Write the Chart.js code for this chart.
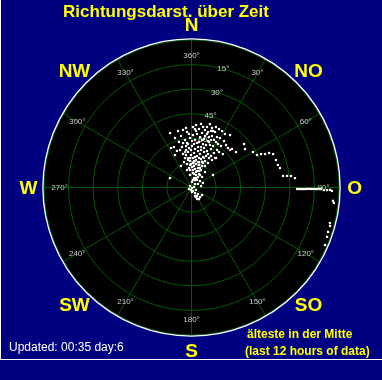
<!DOCTYPE html>
<html lang="de">
<head>
    <meta charset="UTF-8">
    <title>Richtungsdarst. über Zeit</title>
    <script src="https://cdn.jsdelivr.net/npm/chart.js"></script>
    <style>
        body { margin: 0; background: #000080; }
        #wrap { width: 382px; height: 380px; }
    </style>
</head>
<body>
    <div id="wrap"><canvas id="dirChart" width="382" height="380"></canvas></div>

    <script>
        // Richtung in Grad (0 = N, im Uhrzeigersinn) und Position im Ring (0 = Mitte/älteste, 90 = Rand/neueste)
        const dirWhite = [
            1.4, 3.4, 8.5, 10.8, 16.2, 19.0, 19.0, 25.2, 28.4, 32.0,
            36.3, 338.5, 346.6, 351.6, 355.4, 348.5, 1.6, 5.9, 9.6, 14.5,
            16.2, 19.1, 21.7, 25.3, 28.3, 19.5, 4.2, 358.3, 352.2, 344.6,
            349.2, 9.4, 31.4, 35.4, 42.7, 46.4, 51.4, 332.6, 336.6, 352.5,
            356.4, 0.7, 5.2, 9.1, 14.2, 17.6, 23.0, 26.9, 33.1, 354.4,
            359.1, 4.1, 9.9, 14.2, 20.7, 24.7, 30.7, 36.7, 39.7, 333.1,
            345.8, 347.6, 37.8, 43.2, 343.6, 349.2, 356.8, 3.5, 9.3, 18.4,
            22.4, 32.1, 352.7, 1.4, 10.7, 18.4, 28.5, 345.6, 41.1, 34.0,
            334.0, 5.9, 19.8, 29.1, 45.0, 14.7, 36.3, 52.6, 5.2, 59.8,
            293.8, 68.6, 45.0, 315.0, 135.0, 78.7, 191.3, 156.8, 119.1, 147.5,
            135.0, 147.1, 138.2, 239.0, 125.5, 4.6, 13.2, 22.9, 357.3, 10.9,
            22.3, 12.5, 354.2, 3.3, 18.8, 27.4, 343.0, 351.7, 26.2, 34.2,
            2.9, 14.3, 352.7, 27.0, 356.2, 10.8, 26.0, 4.9, 24.4, 16.2,
            353.2, 31.8, 25.0, 81.0, 154.7, 146.9, 21.0, 29.9, 341.6, 14.4,
            354.7, 7.3, 22.0, 14.7, 355.4, 7.0, 23.5, 14.8, 359.2, 10.1,
            19.4, 31.8, 6.5, 18.4, 357.1, 350.4, 5.4, 16.4, 358.8, 25.1,
            6.6, 23.6, 355.1, 18.4, 10.5, 34.2, 25.3, 11.3, 61.7, 173.7,
            157.6, 154.4, 20.8, 26.8, 35.0, 346.8, 338.3, 16.6, 4.1, 39.1,
            50.4, 54.3, 60.0, 63.6, 64.3, 65.5, 66.0, 67.7, 72.0, 75.4,
            77.6, 82.8, 83.1, 83.4, 84.8, 90.8, 90.8, 90.8, 90.8, 90.8,
            90.7, 90.7, 90.7, 90.7, 90.7, 90.7, 90.7, 90.7, 91.1, 91.1,
            91.0, 91.4, 95.4, 96.2, 104.4, 105.5, 108.0, 110.0, 113.3
        ];
        const ageWhite = [
            36.9, 35.7, 39.2, 37.6, 40.3, 38.4, 36.5, 39.4, 39.2, 38.5,
            39.7, 35.7, 35.4, 35.5, 34.0, 32.1, 32.0, 32.8, 31.2, 30.6,
            34.0, 32.6, 33.8, 32.1, 31.5, 30.1, 29.1, 30.2, 29.2, 28.8,
            27.6, 28.1, 31.1, 31.1, 32.8, 34.1, 34.7, 27.1, 26.9, 25.5,
            24.1, 25.3, 23.6, 25.0, 23.6, 25.3, 24.2, 26.3, 25.1, 21.8,
            19.8, 21.1, 19.5, 21.1, 19.9, 21.2, 20.9, 20.9, 23.4, 22.2,
            21.1, 18.4, 27.4, 28.0, 16.2, 14.6, 16.2, 15.0, 17.0, 14.5,
            16.8, 15.5, 12.0, 12.5, 11.5, 12.5, 12.1, 11.0, 12.5, 18.0,
            14.6, 8.9, 8.1, 9.4, 9.1, 6.0, 5.7, 6.5, 3.4, 15.2,
            14.3, 7.5, 3.0, 1.3, 0.4, 1.6, 1.6, 2.3, 3.1, 4.0,
            5.6, 6.2, 7.8, 1.8, 7.9, 34.6, 36.0, 36.8, 32.7, 33.9,
            31.3, 29.7, 27.3, 26.6, 27.4, 28.5, 23.9, 23.1, 22.8, 27.7,
            18.0, 18.6, 16.9, 18.1, 13.7, 14.6, 14.6, 10.7, 11.1, 9.9,
            7.7, 7.5, 5.0, 5.9, 6.4, 8.4, 29.7, 34.8, 31.8, 38.1,
            36.5, 36.0, 39.8, 32.5, 26.6, 27.4, 28.3, 27.4, 22.9, 22.6,
            23.0, 22.6, 18.7, 18.3, 18.0, 20.1, 16.2, 16.2, 14.3, 16.5,
            13.2, 13.0, 10.7, 10.6, 8.4, 9.2, 6.4, 4.7, 4.5, 2.8,
            5.6, 7.8, 36.9, 34.5, 34.6, 25.4, 24.0, 35.3, 38.2, 33.4,
            41.6, 40.2, 43.3, 44.6, 47.1, 49.3, 51.8, 53.8, 54.2, 54.5,
            55.3, 56.3, 58.7, 61.1, 63.4, 64.4, 65.6, 66.8, 68.0, 69.2,
            70.5, 71.7, 72.9, 74.1, 75.3, 76.6, 77.8, 79.0, 80.8, 82.7,
            84.5, 85.7, 86.7, 87.4, 87.2, 87.7, 87.6, 88.0, 88.7
        ];
        const dirPink = [0.6, 13.2, 349.6, 38.5, 45.8, 23.0, 14.3, 353.2];
        const agePink = [28.4, 25.4, 22.0, 23.0, 32.8, 19.6, 16.0, 18.1];

        const compassNames = ['N', 'NO', 'O', 'SO', 'S', 'SW', 'W', 'NW'];
        const azimuthTicks = ['360°', '30°', '60°', '90°', '120°', '150°', '180°', '210°', '240°', '270°', '300°', '330°'];
        const ringTicks = [15, 30, 45, 60, 75];

        const FONT = "'Liberation Sans', Arial, sans-serif";
        const toXY = (dirs, ages) => dirs.map((d, i) => ({
            x: ages[i] * Math.sin(d * Math.PI / 180),
            y: ages[i] * Math.cos(d * Math.PI / 180)
        }));

        // Hintergrund, Kreisraster und Beschriftung
        const polarBack = {
            id: 'polarBack',
            geo(chart) {
                const x = chart.scales.x, y = chart.scales.y;
                const cx = x.getPixelForValue(0), cy = y.getPixelForValue(0);
                const px = v => x.getPixelForValue(v) - cx;
                const at = (deg, r) => [
                    cx + px(r) * Math.sin(deg * Math.PI / 180),
                    cy - px(r) * Math.cos(deg * Math.PI / 180)
                ];
                return { cx, cy, px, at, R: px(90) };
            },
            beforeDraw(chart) {
                const ctx = chart.ctx;
                const { cx, cy, px, at, R } = this.geo(chart);
                ctx.save();
                ctx.fillStyle = '#000080';
                ctx.fillRect(0, 0, chart.width, chart.height);
                ctx.fillStyle = '#ffffff';
                ctx.fillRect(0, 359, chart.width, 1);
                ctx.fillRect(0, 0, 1, 360);

                ctx.beginPath();
                ctx.arc(cx, cy, R, 0, 2 * Math.PI);
                ctx.fillStyle = '#000000';
                ctx.fill();

                ctx.strokeStyle = '#005a00';
                ctx.lineWidth = 1;
                ringTicks.forEach(t => {
                    ctx.beginPath();
                    ctx.arc(cx, cy, px(90 - t), 0, 2 * Math.PI);
                    ctx.stroke();
                });
                azimuthTicks.forEach((_, i) => {
                    const [ex, ey] = at(i * 30, 90);
                    ctx.beginPath();
                    ctx.moveTo(cx, cy);
                    ctx.lineTo(ex, ey);
                    ctx.stroke();
                });
                ctx.beginPath();
                ctx.arc(cx, cy, R, 0, 2 * Math.PI);
                ctx.stroke();
                ctx.strokeStyle = '#ffffff';
                ctx.lineWidth = 1.3;
                ctx.beginPath();
                ctx.arc(cx, cy, R + 1.1, 0, 2 * Math.PI);
                ctx.stroke();

                // Himmelsrichtungen
                ctx.fillStyle = '#ffff00';
                ctx.font = 'bold 19px ' + FONT;
                ctx.textAlign = 'center';
                ctx.textBaseline = 'middle';
                compassNames.forEach((n, i) => {
                    const [tx, ty] = at(i * 45, i % 2 ? 101 : 99.5);
                    ctx.fillText(n, tx, ty + 1);
                });

                ctx.font = 'bold 17px ' + FONT;
                ctx.fillText('Richtungsdarst. über Zeit', 166, 12);

                ctx.textAlign = 'left';
                ctx.font = 'bold 12px ' + FONT;
                ctx.fillText('älteste in der Mitte', 247, 335);
                ctx.fillText('(last 12 hours of data)', 245, 352);

                ctx.fillStyle = '#ffffff';
                ctx.font = '12px ' + FONT;
                ctx.fillText('Updated: 00:35 day:6', 9, 348);
                ctx.restore();
            },
            beforeDatasetsDraw(chart) {
                const ctx = chart.ctx;
                const { at } = this.geo(chart);
                ctx.save();
                ctx.fillStyle = '#c8c8c8';
                ctx.font = '8px ' + FONT;
                ctx.textAlign = 'center';
                ctx.textBaseline = 'middle';
                ringTicks.forEach(t => {
                    const [tx, ty] = at(15, 90 - t);
                    ctx.fillText(t + '°', tx, ty);
                });
                ctx.restore();
            },
            afterDatasetsDraw(chart) {
                const ctx = chart.ctx;
                const { at } = this.geo(chart);
                ctx.save();
                ctx.fillStyle = '#c8c8c8';
                ctx.font = '8px ' + FONT;
                ctx.textAlign = 'center';
                ctx.textBaseline = 'middle';
                azimuthTicks.forEach((t, i) => {
                    const [tx, ty] = at(i * 30, 80.5);
                    ctx.fillText(t, tx, ty);
                });
                ctx.restore();
            }
        };

        new Chart(document.getElementById('dirChart'), {
            type: 'scatter',
            data: {
                datasets: [
                    { data: toXY(dirWhite, ageWhite), backgroundColor: '#ffffff', pointStyle: 'rect', pointRadius: 1.6, borderWidth: 0 },
                    { data: toXY(dirPink, agePink), backgroundColor: '#ffc8dc', pointStyle: 'rect', pointRadius: 1.6, borderWidth: 0 }
                ]
            },
            options: {
                responsive: false,
                animation: false,
                events: [],
                layout: { padding: { left: 44, right: 43, top: 40, bottom: 45 } },
                scales: {
                    x: { type: 'linear', min: -90, max: 90, display: false },
                    y: { type: 'linear', min: -90, max: 90, display: false }
                },
                plugins: {
                    legend: { display: false },
                    tooltip: { enabled: false }
                }
            },
            plugins: [polarBack]
        });
    </script>
</body>
</html>
